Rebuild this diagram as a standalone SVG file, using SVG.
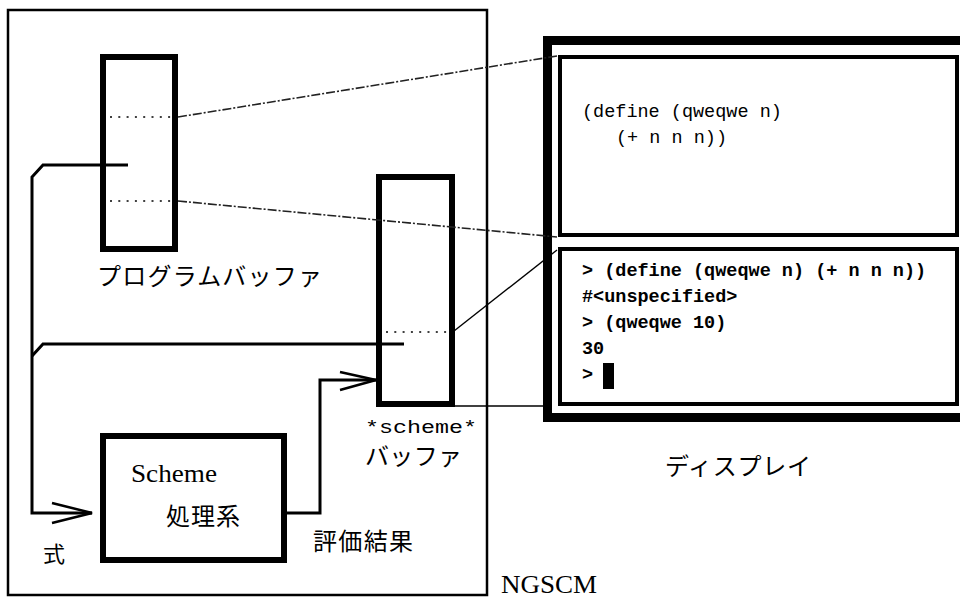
<svg xmlns="http://www.w3.org/2000/svg" width="960" height="599" viewBox="0 0 960 599">
<style>
.thick{fill:none;stroke:#000;stroke-width:6}
.med{fill:none;stroke:#000;stroke-width:4}
.wire{fill:none;stroke:#000;stroke-width:3;stroke-linejoin:miter}
.arr{fill:none;stroke:#000;stroke-width:2.5}
.dot{fill:none;stroke:#000;stroke-width:1.6;stroke-dasharray:2 6.3}
.dd{fill:none;stroke:#222;stroke-width:1.6;stroke-dasharray:9 2 2 2}
.thin{fill:none;stroke:#000;stroke-width:1.4}
.jp{font-family:"Noto Sans CJK JP","Noto Sans",sans-serif;font-size:24px;fill:#000}
.mono{font-family:"Liberation Mono","DejaVu Sans Mono",monospace;font-size:18.5px;fill:#000}
.monob{font-family:"Liberation Mono","DejaVu Sans Mono",monospace;font-size:18.5px;font-weight:bold;fill:#000}
.serif{font-family:"Liberation Serif","DejaVu Serif",serif;fill:#000}
</style>
<rect width="960" height="599" fill="#fff"/>
<g id="ngscm">
<rect x="8" y="10" width="479" height="585" fill="none" stroke="#000" stroke-width="2.5"/>
<text class="serif" x="501" y="593" font-size="25" textLength="96" lengthAdjust="spacingAndGlyphs">NGSCM</text>
</g>
<g id="program-buffer">
<rect class="thick" x="103" y="57" width="72" height="192"/>
<line class="dot" x1="110" y1="117" x2="172" y2="117"/>
<line class="dot" x1="110" y1="201" x2="172" y2="201"/>
<text class="jp" x="97" y="285" textLength="225" lengthAdjust="spacing">プログラムバッファ</text>
</g>
<g id="scheme-buffer">
<rect class="thick" x="379" y="177" width="73" height="227"/>
<line class="dot" x1="386" y1="332" x2="448" y2="332"/>
<text class="mono" x="365" y="433" textLength="112" lengthAdjust="spacingAndGlyphs" style="font-size:19px">*scheme*</text>
<text class="jp" x="365" y="465" textLength="97" lengthAdjust="spacing">バッファ</text>
</g>
<g id="scheme-processor">
<rect class="thick" x="103" y="436" width="181" height="124"/>
<text class="serif" x="131" y="482" font-size="26" textLength="86" lengthAdjust="spacingAndGlyphs">Scheme</text>
<text class="jp" x="166" y="525" textLength="74" lengthAdjust="spacing">処理系</text>
</g>
<g id="display">
<path d="M970 40.5 H547.5 V417.5 H970" fill="none" stroke="#000" stroke-width="9"/>
<rect class="med" x="560" y="57" width="397" height="178"/>
<rect class="med" x="560" y="249" width="397" height="155"/>
<text class="mono" x="582" y="117">(define (qweqwe n)</text>
<text class="mono" x="616" y="143">(+ n n n))</text>
<text class="monob" x="582" y="276">&gt; (define (qweqwe n) (+ n n n))</text>
<text class="monob" x="582" y="302">#&lt;unspecified&gt;</text>
<text class="monob" x="582" y="328">&gt; (qweqwe 10)</text>
<text class="monob" x="582" y="354">30</text>
<text class="monob" x="582" y="380">&gt;</text>
<rect x="603" y="363" width="11" height="26" fill="#000"/>
<text class="jp" x="665" y="475" textLength="146" lengthAdjust="spacing">ディスプレイ</text>
</g>
<g id="connectors">
<polyline class="wire" points="128,165 43,165 32,177 32,513 92,513"/>
<polyline class="wire" points="404,344 43,344 32,356"/>
<polyline class="arr" points="52,503 92,513 52,523"/>
<polyline class="wire" points="287,513 320,513 320,380 376,380"/>
<polyline class="arr" points="340,372 376,380 340,390"/>
<line class="dd" x1="178" y1="117" x2="557" y2="56"/>
<line class="dd" x1="178" y1="201" x2="557" y2="237"/>
<line class="thin" x1="454" y1="331" x2="557" y2="250"/>
<line class="thin" x1="455" y1="406" x2="548" y2="406"/>
<text class="jp" x="43" y="562" style="font-size:22px">式</text>
<text class="jp" x="313" y="550" textLength="100" lengthAdjust="spacing">評価結果</text>
</g>
</svg>
